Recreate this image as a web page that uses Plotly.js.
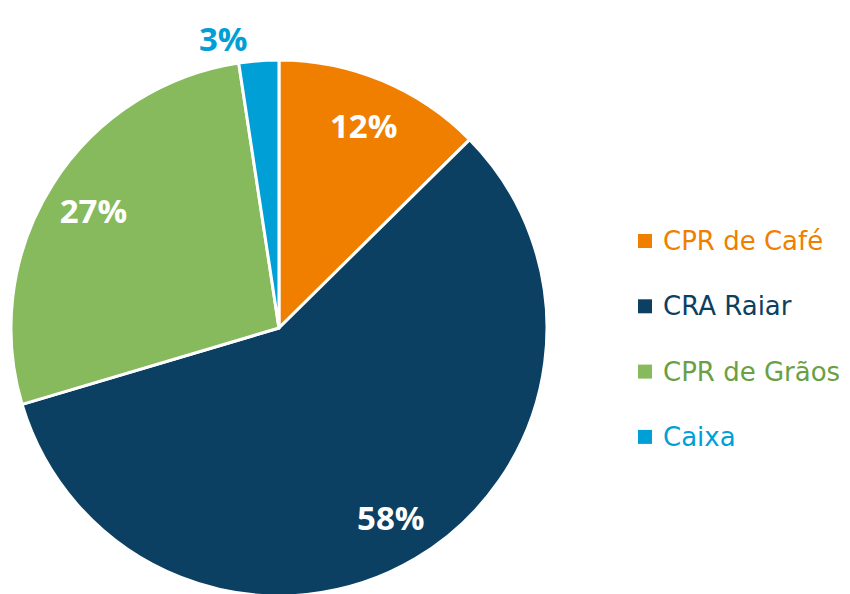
<!DOCTYPE html>
<html>
<head>
<meta charset="utf-8">
<script src="https://cdn.plot.ly/plotly-3.0.1.min.js"></script>
<style>
html,body{margin:0;padding:0;overflow:hidden;background:#fff;}
#chart{width:850px;height:600px;}
</style>
</head>
<body>
<div id="chart"></div>
<script>
const categories = ['CPR de Café', 'CRA Raiar', 'CPR de Grãos', 'Caixa'];
const shares = [12.6, 57.8, 27.2, 2.4];
const shareLabels = ['12%', '58%', '27%', '3%'];
const colors = ['#F07F00', '#0B4062', '#86BA5C', '#009FD6'];
const legendTextColors = ['#F07F00', '#0B4062', '#6A9F45', '#009FD6'];

const pieDomain = {x: [0.0129, 0.6435], y: [0.0067, 0.9]};
const labelFont = 'Open Sans, sans-serif';
const legendFont = 'DejaVu Sans, sans-serif';

// Main pie: slices + outside label of the small slice
const pie = {
  type: 'pie',
  labels: categories,
  values: shares,
  text: shareLabels,
  texttemplate: '%{text}',
  sort: false,
  direction: 'clockwise',
  rotation: 0,
  marker: {colors: colors, line: {color: '#ffffff', width: 3}},
  textposition: ['none', 'none', 'none', 'outside'],
  outsidetextfont: {family: labelFont, size: 33, color: '#009FD6', weight: 'bold'},
  domain: pieDomain,
  showlegend: false,
  hoverinfo: 'label+percent'
};

// Transparent ring over the pie: carries the inside labels near the rim
const labelRing = {
  type: 'pie',
  labels: categories,
  values: shares,
  text: shareLabels,
  texttemplate: '%{text}',
  sort: false,
  direction: 'clockwise',
  rotation: 0,
  hole: 0.64,
  marker: {colors: categories.map(() => 'rgba(0,0,0,0)'), line: {width: 0}},
  textposition: ['inside', 'inside', 'inside', 'none'],
  insidetextorientation: 'horizontal',
  insidetextfont: {family: labelFont, size: 33, color: '#ffffff', weight: 'bold'},
  domain: pieDomain,
  showlegend: false,
  hoverinfo: 'skip'
};

const legendTop = 241, legendStep = 65.3;
const annotations = [], shapes = [];
categories.forEach((c, i) => {
  const yPx = legendTop + i * legendStep;
  annotations.push({
    xref: 'paper', yref: 'paper', x: 661 / 850, y: 1 - yPx / 600,
    xanchor: 'left', yanchor: 'middle', showarrow: false,
    text: c,
    font: {family: legendFont, size: 26, color: legendTextColors[i]}
  });
  shapes.push({
    type: 'rect', xref: 'paper', yref: 'paper',
    x0: 638 / 850, x1: 652 / 850,
    y0: 1 - (yPx + 7) / 600, y1: 1 - (yPx - 7) / 600,
    fillcolor: colors[i], line: {width: 0}
  });
});

const layout = {
  width: 850, height: 600,
  margin: {l: 0, r: 0, t: 0, b: 0},
  paper_bgcolor: '#ffffff',
  showlegend: false,
  annotations: annotations,
  shapes: shapes
};

Plotly.newPlot('chart', [pie, labelRing], layout, {displayModeBar: false, staticPlot: true});
</script>
</body>
</html>
